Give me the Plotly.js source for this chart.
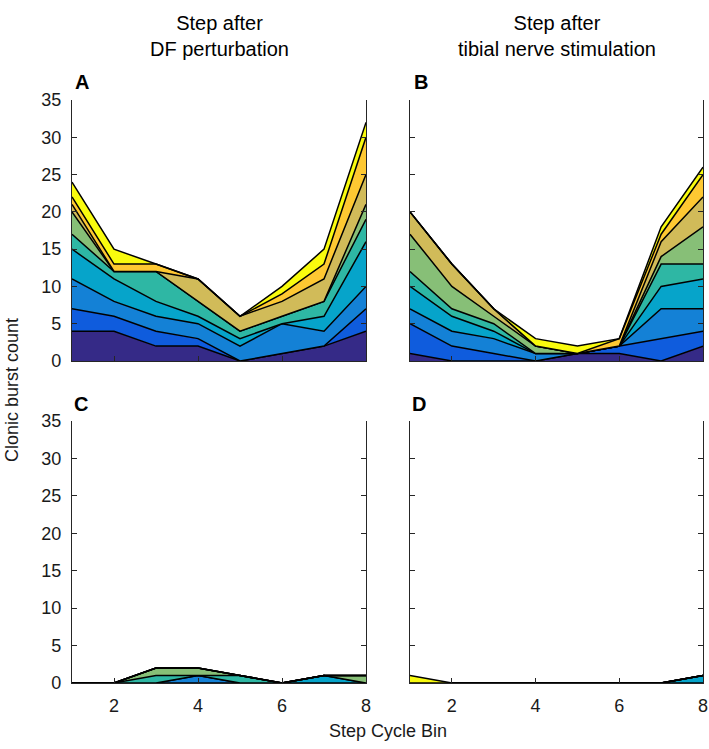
<!DOCTYPE html>
<html>
<head>
<meta charset="utf-8">
<script src="https://cdn.plot.ly/plotly-3.0.1.min.js"></script>
<style>html,body{margin:0;padding:0;background:#fff;}#chart{width:709px;height:749px;}</style>
</head>
<body>
<div id="chart"></div>
<script>
// Step cycle bins
var bins = [1, 2, 3, 4, 5, 6, 7, 8];
var xTicks = [2, 4, 6, 8];
var yTicks = [0, 5, 10, 15, 20, 25, 30, 35];

// Layer colours (bottom to top)
var layerColors = ['#352a87', '#0f5cdd', '#1481d6', '#06a4ca', '#2eb7a4', '#87bf77', '#d1bb59', '#fec832', '#f9fb0e'];

// Panel A: step after DF perturbation (stacked layers, bottom to top)
var panelA = [
  [4, 4, 2, 2, 0, 1, 2, 4],
  [3, 2, 2, 1, 0, 0, 0, 3],
  [4, 2, 2, 2, 2, 4, 2, 3],
  [4, 3, 2, 1, 1, 0, 2, 6],
  [2, 1, 4, 2, 1, 1, 2, 3],
  [3, 0, 0, 0, 0, 0, 0, 2],
  [1, 0, 0, 3, 2, 2, 3, 4],
  [1, 1, 1, 0, 0, 1, 2, 5],
  [2, 2, 0, 0, 0, 1, 2, 2]
];

// Panel B: step after tibial nerve stimulation
var panelB = [
  [1, 0, 0, 0, 1, 1, 0, 2],
  [4, 2, 1, 0, 0, 1, 3, 2],
  [2, 2, 2, 1, 0, 0, 4, 3],
  [3, 2, 1, 0, 0, 0, 3, 4],
  [2, 1, 1, 0, 0, 0, 3, 2],
  [5, 3, 1, 1, 0, 0, 1, 5],
  [3, 3, 1, 0, 0, 0, 2, 4],
  [0, 0, 0, 0, 0, 1, 1, 3],
  [0, 0, 0, 1, 1, 0, 1, 1]
];

// Panel C
var panelC = [
  [0, 0, 0, 0, 0, 0, 0, 0],
  [0, 0, 0, 0, 0, 0, 0, 0],
  [0, 0, 0, 1, 0, 0, 0, 0],
  [0, 0, 0, 0, 0, 0, 1, 0],
  [0, 0, 1, 0, 1, 0, 0, 0],
  [0, 0, 1, 1, 0, 0, 0, 1],
  [0, 0, 0, 0, 0, 0, 0, 0],
  [0, 0, 0, 0, 0, 0, 0, 0],
  [0, 0, 0, 0, 0, 0, 0, 0]
];

// Panel D
var panelD = [
  [0, 0, 0, 0, 0, 0, 0, 0],
  [0, 0, 0, 0, 0, 0, 0, 0],
  [0, 0, 0, 0, 0, 0, 0, 0],
  [0, 0, 0, 0, 0, 0, 0, 1],
  [0, 0, 0, 0, 0, 0, 0, 0],
  [0, 0, 0, 0, 0, 0, 0, 0],
  [0, 0, 0, 0, 0, 0, 0, 0],
  [0, 0, 0, 0, 0, 0, 0, 0],
  [1, 0, 0, 0, 0, 0, 0, 0]
];

var colTitles = ['Step after<br>DF perturbation', 'Step after<br>tibial nerve stimulation'];
var panelLetters = ['A', 'B', 'C', 'D'];
var yTitle = 'Clonic burst count';
var xTitle = 'Step Cycle Bin';

var W = 709, H = 749;
function px(x) { return x / W; }
function py(y) { return 1 - y / H; }

var panels = [panelA, panelB, panelC, panelD];
var axisIds = [['x', 'y'], ['x2', 'y2'], ['x3', 'y3'], ['x4', 'y4']];
var traces = [];
panels.forEach(function (layers, p) {
  layers.forEach(function (vals, i) {
    traces.push({
      type: 'scatter', mode: 'lines', x: bins, y: vals,
      xaxis: axisIds[p][0], yaxis: axisIds[p][1],
      stackgroup: 'g' + p,
      fillcolor: layerColors[i],
      line: {color: '#000000', width: 1.5, shape: 'linear'},
      hoverinfo: 'skip', showlegend: false
    });
  });
});

var fam = 'Liberation Sans, Arial, sans-serif';
var tickFont = {family: fam, size: 18, color: '#1a1a1a'};
var xDom = [[px(72), px(366)], [px(410), px(703)]];
var yDom = [[py(361), py(100)], [py(683), py(421)]];

function xa(col, showLabels, anchor) {
  return {domain: xDom[col], range: [1, 8], tickvals: xTicks, showticklabels: showLabels,
    ticks: 'inside', ticklen: 5, tickcolor: '#262626', tickwidth: 1,
    ticklabelstandoff: 6,
    showline: true, linecolor: '#262626', linewidth: 1.2, mirror: false,
    showgrid: false, zeroline: false, anchor: anchor, fixedrange: true,
    tickfont: tickFont};
}
function ya(row, showLabels, anchor) {
  return {domain: yDom[row], range: [0, 35], tickvals: yTicks, showticklabels: showLabels,
    ticks: 'inside', ticklen: 5, tickcolor: '#262626', tickwidth: 1,
    ticklabelstandoff: 6,
    showline: true, linecolor: '#262626', linewidth: 1.2, mirror: 'ticks',
    showgrid: false, zeroline: false, anchor: anchor, fixedrange: true,
    tickfont: tickFont};
}

var titleFont = {family: fam, size: 20, color: '#000'};
var letterFont = {family: fam, size: 20, color: '#000'};
var axFont = {family: fam, size: 18, color: '#1a1a1a'};
var annotations = [
  {text: colTitles[0], x: px(219), y: py(36), xref: 'paper', yref: 'paper', showarrow: false,
   font: titleFont, xanchor: 'center', yanchor: 'middle'},
  {text: colTitles[1], x: px(557), y: py(36), xref: 'paper', yref: 'paper', showarrow: false,
   font: titleFont, xanchor: 'center', yanchor: 'middle'},
  {text: '<b>' + panelLetters[0] + '</b>', x: px(73), y: py(82), xref: 'paper', yref: 'paper', showarrow: false,
   font: letterFont, xanchor: 'left', yanchor: 'middle'},
  {text: '<b>' + panelLetters[1] + '</b>', x: px(412), y: py(82), xref: 'paper', yref: 'paper', showarrow: false,
   font: letterFont, xanchor: 'left', yanchor: 'middle'},
  {text: '<b>' + panelLetters[2] + '</b>', x: px(72), y: py(404), xref: 'paper', yref: 'paper', showarrow: false,
   font: letterFont, xanchor: 'left', yanchor: 'middle'},
  {text: '<b>' + panelLetters[3] + '</b>', x: px(410), y: py(404), xref: 'paper', yref: 'paper', showarrow: false,
   font: letterFont, xanchor: 'left', yanchor: 'middle'},
  {text: yTitle, x: px(12), y: py(390), xref: 'paper', yref: 'paper', showarrow: false, textangle: -90,
   font: axFont, xanchor: 'center', yanchor: 'middle'},
  {text: xTitle, x: px(388), y: py(731), xref: 'paper', yref: 'paper', showarrow: false,
   font: axFont, xanchor: 'center', yanchor: 'middle'}
];

var layout = {
  width: W, height: H,
  margin: {l: 0, r: 0, t: 0, b: 0},
  paper_bgcolor: '#ffffff', plot_bgcolor: '#ffffff',
  font: tickFont,
  showlegend: false,
  xaxis: xa(0, false, 'y'), yaxis: ya(0, true, 'x'),
  xaxis2: xa(1, false, 'y2'), yaxis2: ya(0, false, 'x2'),
  xaxis3: xa(0, true, 'y3'), yaxis3: ya(1, true, 'x3'),
  xaxis4: xa(1, true, 'y4'), yaxis4: ya(1, false, 'x4'),
  annotations: annotations
};

Plotly.newPlot('chart', traces, layout, {staticPlot: true, displayModeBar: false});
</script>
</body>
</html>
